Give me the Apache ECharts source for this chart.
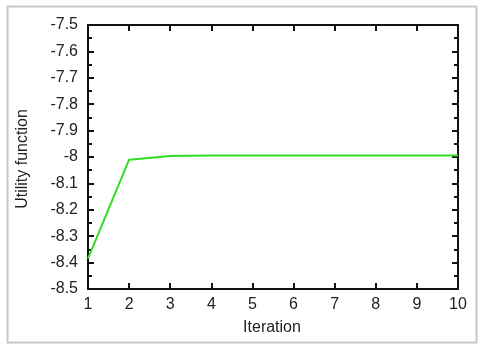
<!DOCTYPE html>
<html>
<head>
<meta charset="utf-8">
<script src="https://cdn.jsdelivr.net/npm/echarts@6/dist/echarts.min.js"></script>
<style>
  html, body { margin: 0; padding: 0; background: #fff; }
  #chart { width: 481px; height: 345px; }
</style>
</head>
<body>
<div id="chart"></div>
<script>
// values
const iterations = [1, 2, 3, 4, 5, 6, 7, 8, 9, 10];
const utility = [-8.385, -8.01, -7.996, -7.994, -7.994, -7.994, -7.994, -7.994, -7.994, -7.994];

let myChart = echarts.init(document.getElementById("chart"));

let points = iterations.map((it, i) => [it, utility[i]]);

let fam = "Liberation Sans, Arial, sans-serif";
let labelFont = { fontFamily: fam, fontSize: 16, color: "#222" };

function yAx(pos, showLabel) {
  return {
    type: "value",
    position: pos,
    min: -8.5,
    max: -7.5,
    interval: 0.1,
    axisLine: { show: true, onZero: false, lineStyle: { color: "#111", width: 2 } },
    axisTick: { show: true, inside: true, length: 6, lineStyle: { color: "#111", width: 2 } },
    minorTick: { show: true, splitNumber: 2, length: 4, lineStyle: { color: "#111", width: 2 } },
    splitLine: { show: false },
    axisLabel: Object.assign({ show: showLabel, margin: 10, formatter: (v) => String(Math.round(v * 10) / 10) }, labelFont),
  };
}

function xAx(pos, showLabel) {
  return {
    type: "value",
    position: pos,
    min: 1,
    max: 10,
    interval: 1,
    axisLine: { show: true, onZero: false, lineStyle: { color: "#111", width: 2 } },
    axisTick: { show: true, inside: true, length: 6, lineStyle: { color: "#111", width: 2 } },
    splitLine: { show: false },
    axisLabel: Object.assign({ show: showLabel, margin: 8 }, labelFont),
  };
}

myChart.setOption({
  animation: false,
  grid: { left: 88, right: 23, top: 25, bottom: 56 },
  graphic: [
    {
      type: "rect",
      shape: { x: 7.5, y: 6.5, width: 469, height: 336 },
      style: { fill: "none", stroke: "#c8c8c8", lineWidth: 2 },
    },
    {
      type: "text",
      x: 272,
      y: 320,
      style: { text: "Iteration", textAlign: "center", fontFamily: fam, fontSize: 16, fill: "#222" },
    },
    {
      type: "text",
      x: 15,
      y: 159,
      rotation: Math.PI / 2,
      style: { text: "Utility function", textAlign: "center", fontFamily: fam, fontSize: 16, fill: "#222" },
    },
  ],
  xAxis: [xAx("bottom", true), xAx("top", false)],
  yAxis: [yAx("left", true), yAx("right", false)],
  series: [
    {
      type: "line",
      data: points,
      xAxisIndex: 0,
      yAxisIndex: 0,
      symbol: "none",
      lineStyle: { color: "#33dd22", width: 2 },
    },
  ],
});
</script>
</body>
</html>
